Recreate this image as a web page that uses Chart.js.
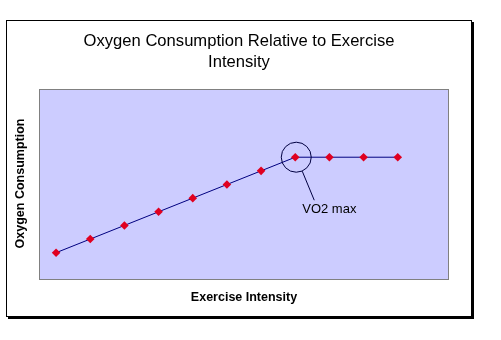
<!DOCTYPE html>
<html>
<head>
<meta charset="utf-8">
<script src="https://cdn.jsdelivr.net/npm/chart.js@4"></script>
<style>
  html, body { margin: 0; padding: 0; background: #fff; }
  #wrap { width: 501px; height: 340px; }
</style>
</head>
<body>
<div id="wrap"><canvas id="chart" width="501" height="340"></canvas></div>
<script>
// Dane wykresu
const titleLines = ['Oxygen Consumption Relative to Exercise', 'Intensity'];
const xTitle = 'Exercise Intensity';
const yTitle = 'Oxygen Consumption';
const intensity = [1, 2, 3, 4, 5, 6, 7, 8, 9, 10, 11];
const oxygen = [2, 3, 4, 5, 6, 7, 8, 9, 9, 9, 9];
const vo2Label = 'VO2 max';
const vo2Index = 7;

// Ramka, tło wykresu i teksty
const frame = {
  id: 'frame',
  beforeDraw(chart) {
    const ctx = chart.ctx;
    const a = chart.chartArea;
    ctx.save();
    ctx.fillStyle = '#000';
    ctx.fillRect(8, 22, 466, 297);
    ctx.fillStyle = '#fff';
    ctx.fillRect(6, 20, 466, 297);
    ctx.strokeStyle = '#000';
    ctx.lineWidth = 1;
    ctx.strokeRect(6.5, 20.5, 465, 296);

    ctx.fillStyle = '#ccccff';
    ctx.fillRect(a.left, a.top, a.right - a.left, a.bottom - a.top);
    ctx.strokeStyle = '#808080';
    ctx.strokeRect(a.left + 0.5, a.top + 0.5, a.right - a.left - 1, a.bottom - a.top - 1);

    ctx.fillStyle = '#000';
    ctx.textAlign = 'center';
    ctx.textBaseline = 'middle';
    ctx.font = '16.6px Arial, "Liberation Sans", sans-serif';
    ctx.fillText(titleLines[0], 239, 41);
    ctx.fillText(titleLines[1], 239, 62);

    ctx.font = 'bold 12.5px Arial, "Liberation Sans", sans-serif';
    ctx.fillText(xTitle, (a.left + a.right) / 2, 298);
    ctx.translate(21, (a.top + a.bottom) / 2 - 1);
    ctx.rotate(-Math.PI / 2);
    ctx.fillText(yTitle, 0, 0);
    ctx.restore();
  },
  afterDatasetsDraw(chart) {
    const ctx = chart.ctx;
    const px = chart.scales.x.getPixelForValue(intensity[vo2Index]);
    const py = chart.scales.y.getPixelForValue(oxygen[vo2Index]);
    ctx.save();
    ctx.strokeStyle = '#000040';
    ctx.lineWidth = 1;
    ctx.beginPath();
    ctx.arc(px + 1, py, 15, 0, Math.PI * 2);
    ctx.stroke();
    ctx.beginPath();
    ctx.moveTo(px + 7, py + 14);
    ctx.lineTo(px + 19, py + 43);
    ctx.stroke();
    ctx.fillStyle = '#000';
    ctx.font = '13px Arial, "Liberation Sans", sans-serif';
    ctx.textAlign = 'left';
    ctx.textBaseline = 'middle';
    ctx.fillText(vo2Label, px + 7, py + 52);
    ctx.restore();
  }
};

const ctx = document.getElementById('chart').getContext('2d');
new Chart(ctx, {
  type: 'line',
  data: {
    datasets: [{
      data: intensity.map((x, i) => ({ x: x, y: oxygen[i] })),
      borderColor: '#000080',
      borderWidth: 1,
      pointStyle: 'rectRot',
      pointRadius: 4.3,
      pointBackgroundColor: '#e00020',
      pointBorderColor: '#e00020',
      pointBorderWidth: 0,
      tension: 0
    }]
  },
  options: {
    responsive: false,
    animation: false,
    devicePixelRatio: 1,
    layout: { padding: { left: 39, top: 89, right: 52, bottom: 60 } },
    plugins: { legend: { display: false }, tooltip: { enabled: false } },
    scales: {
      x: { type: 'linear', min: 0.5, max: 12.5, display: false },
      y: { min: 0, max: 14, display: false }
    }
  },
  plugins: [frame]
});
</script>
</body>
</html>
